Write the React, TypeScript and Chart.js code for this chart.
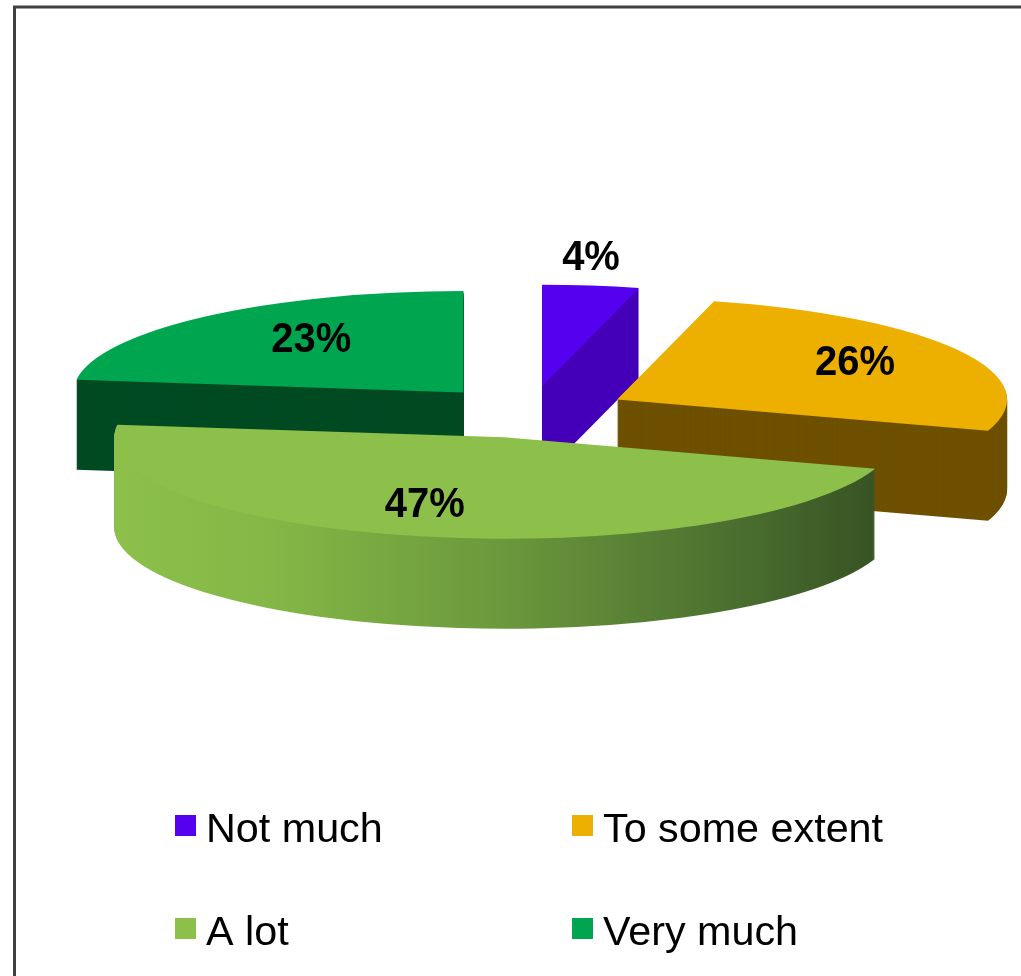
import React, { useEffect, useRef } from "react";
import { Chart, registerables } from "chart.js";

Chart.register(...registerables);

// --- data ---
const categories = ["Not much", "To some extent", "A lot", "Very much"];
const percentages = [4, 26, 47, 23];

// --- style ---
const topColors = ["#5500EE", "#EEB000", "#8CC04B", "#00A550"];
const wallColors = ["#4400B8", "#6E5000", "#8CC04B", "#004A22"];
const drawOrder = [3, 0, 1, 2];
const sliceNudge = [0, 0, -3.5, 0];
const labelShift = [
  [49, -128],
  [238, -36],
  [-83, 68],
  [-152, -52],
];
const legendColumns = [175, 572];
const legendRows = [815, 918];

const SQUASH = 0.26;
const EXPLODE = 100;
const DEPTH = 90;
const RADIUS = 390;
const FONT = '"Liberation Sans", Arial, sans-serif';

function place(ctx: CanvasRenderingContext2D, arc: any, lift: number, nudge: number) {
  const mid = (arc.startAngle + arc.endAngle) / 2;
  ctx.translate(arc.x + nudge, arc.y + lift);
  ctx.scale(1, SQUASH);
  ctx.translate(Math.cos(mid) * EXPLODE, Math.sin(mid) * EXPLODE);
  ctx.translate(-arc.x, -arc.y);
}

const pie3d = {
  id: "pie3d",
  beforeDraw(chart: any) {
    const { ctx, width, height } = chart;
    ctx.save();
    ctx.fillStyle = "#FFFFFF";
    ctx.fillRect(0, 0, width, height);
    ctx.strokeStyle = "#404040";
    ctx.lineWidth = 3;
    ctx.beginPath();
    ctx.moveTo(14.5, height);
    ctx.lineTo(14.5, 7);
    ctx.lineTo(width, 7);
    ctx.stroke();
    ctx.restore();
  },
  beforeDatasetDraw(chart: any, args: any) {
    const { ctx } = chart;
    const arcs = args.meta.data;
    drawOrder.forEach((i) => {
      const arc = arcs[i];
      let wall: any = wallColors[i];
      if (i === 2) {
        const g = ctx.createLinearGradient(arc.x - arc.outerRadius, 0, arc.x + arc.outerRadius, 0);
        g.addColorStop(0, "#8CC04B");
        g.addColorStop(0.2, "#84B746");
        g.addColorStop(0.5, "#6B983C");
        g.addColorStop(0.8, "#4A6E2F");
        g.addColorStop(0.97, "#385424");
        g.addColorStop(1, "#385424");
        wall = g;
      }
      for (let d = DEPTH; d >= 1; d--) {
        ctx.save();
        place(ctx, arc, d, sliceNudge[i]);
        ctx.fillStyle = wall;
        ctx.beginPath();
        ctx.moveTo(arc.x, arc.y);
        ctx.arc(arc.x, arc.y, arc.outerRadius, arc.startAngle, arc.endAngle);
        ctx.closePath();
        ctx.fill();
        ctx.restore();
      }
      ctx.save();
      place(ctx, arc, 0, sliceNudge[i]);
      arc.draw(ctx);
      ctx.restore();
    });
    return false;
  },
  afterDraw(chart: any) {
    const { ctx } = chart;
    const arcs = chart.getDatasetMeta(0).data;
    ctx.save();
    ctx.fillStyle = "#000000";
    ctx.font = `bold 43px ${FONT}`;
    ctx.textAlign = "center";
    ctx.textBaseline = "middle";
    percentages.forEach((v, i) => {
      const arc = arcs[i];
      const mid = (arc.startAngle + arc.endAngle) / 2;
      const ax = arc.x + Math.cos(mid) * EXPLODE;
      const ay = arc.y + Math.sin(mid) * EXPLODE * SQUASH;
      ctx.save();
      ctx.translate(ax + labelShift[i][0], ay + labelShift[i][1]);
      ctx.scale(0.93, 1);
      ctx.fillText(`${v}%`, 0, 0);
      ctx.restore();
    });
    ctx.font = `41.3px ${FONT}`;
    ctx.textAlign = "left";
    ctx.textBaseline = "alphabetic";
    categories.forEach((c, i) => {
      const x = legendColumns[i % 2];
      const y = legendRows[Math.floor(i / 2)];
      ctx.fillStyle = topColors[i];
      ctx.fillRect(x, y, 21, 21);
      ctx.fillStyle = "#000000";
      ctx.fillText(c, x + 31, y + 27);
    });
    ctx.restore();
  },
};

export default function App() {
  const ref = useRef<HTMLCanvasElement | null>(null);
  useEffect(() => {
    if (!ref.current) return;
    const chart = new Chart(ref.current, {
      type: "pie",
      data: {
        labels: categories,
        datasets: [
          {
            data: percentages,
            backgroundColor: topColors,
            borderWidth: 0,
          },
        ],
      },
      options: {
        responsive: false,
        animation: false,
        radius: RADIUS,
        layout: { padding: { left: 38, bottom: 152 } },
        plugins: { legend: { display: false }, tooltip: { enabled: false } },
      } as any,
      plugins: [pie3d as any],
    });
    return () => chart.destroy();
  }, []);
  return (
    <canvas
      ref={ref}
      width={1021}
      height={976}
      style={{ position: "fixed", left: 0, top: 0, display: "block", filter: "blur(0.5px)" }}
    />
  );
}
